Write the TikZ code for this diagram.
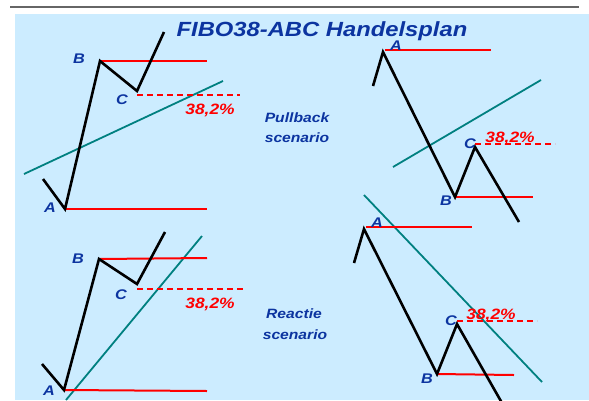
\documentclass[tikz,border=0pt]{standalone}
\usepackage{fontspec}
\setmainfont{Liberation Sans}
\newfontfamily\planfont[FakeStretch=1.16]{Liberation Sans}

\definecolor{skyback}{RGB}{204,236,255}
\definecolor{planblue}{RGB}{12,52,160}
\definecolor{trendteal}{RGB}{0,128,128}

\tikzset{
  wave/.style={line width=2.6pt,black},
  level/.style={line width=2pt,red},
  retrace/.style={level,dash pattern=on 6pt off 4pt},
  trend/.style={line width=1.8pt,trendteal},
  ptlabel/.style={font=\planfont\fontsize{14}{14}\selectfont\bfseries\itshape,text=planblue,inner sep=0pt,anchor=base},
  pctlabel/.style={font=\planfont\fontsize{15}{15}\selectfont\bfseries\itshape,text=red,inner sep=0pt,anchor=base},
  scenlabel/.style={font=\planfont\fontsize{13.5}{13.5}\selectfont\bfseries\itshape,text=planblue,inner sep=0pt,anchor=base},
}

\begin{document}
\begin{tikzpicture}[x=1pt,y=-1pt]
  \useasboundingbox (0,0) rectangle (589,400);
  \fill[white] (0,0) rectangle (589,400);
  \draw[black!60,line width=1.2pt] (10,7) -- (579,7);
  \fill[skyback] (15,14) rectangle (589,400);
  \node[font=\planfont\fontsize{20.5}{20.5}\selectfont\bfseries\itshape,text=planblue,inner sep=0pt,anchor=base] (title) at (322,36) {FIBO38-ABC Handelsplan};

  \begin{scope}
  \clip (15,14) rectangle (589,400);
  % pullback, rising market
  \coordinate (pu0) at (43,179); \coordinate (puA) at (65,209);
  \coordinate (puB) at (100,61); \coordinate (puC) at (137,91);
  \coordinate (pu1) at (164,32);
  \draw[trend] (24,174) -- (223,81);
  \draw[level] (puB) -- (207,61);
  \draw[level] (puA) -- (207,209);
  \draw[retrace] (137,95) -- (240,95);
  \draw[wave] (pu0) -- (puA) -- (puB) -- (puC) -- (pu1);
  \node[ptlabel] (puAl) at (50,212) {A};
  \node[ptlabel] (puBl) at (79,63) {B};
  \node[ptlabel] (puCl) at (122,104) {C};
  \node[pctlabel] (pupct) at (210,114) {38,2\%};

  % pullback, falling market
  \coordinate (pd0) at (373,86); \coordinate (pdA) at (383,52);
  \coordinate (pdB) at (455,197); \coordinate (pdC) at (475,147);
  \coordinate (pd1) at (519,222);
  \draw[trend] (393,167) -- (541,80);
  \draw[level] (385,50) -- (491,50);
  \draw[level] (pdB) -- (533,197);
  \draw[retrace] (475,144) -- (555,144);
  \draw[wave] (pd0) -- (pdA) -- (pdB) -- (pdC) -- (pd1);
  \node[ptlabel] (pdAl) at (396,50.8) {A};
  \node[ptlabel] (pdBl) at (446,205) {B};
  \node[ptlabel] (pdCl) at (470,148) {C};
  \node[pctlabel] (pdpct) at (510,142) {38,2\%};

  % reaction, rising market
  \coordinate (ru0) at (42,364); \coordinate (ruA) at (64,390);
  \coordinate (ruB) at (99,259); \coordinate (ruC) at (137,284);
  \coordinate (ru1) at (165,232);
  \draw[trend] (202,236) -- (66,400);
  \draw[level] (ruB) -- (207,258);
  \draw[level] (ruA) -- (207,391);
  \draw[retrace] (137,289) -- (244,289);
  \draw[wave] (ru0) -- (ruA) -- (ruB) -- (ruC) -- (ru1);
  \node[ptlabel] (ruAl) at (49,395) {A};
  \node[ptlabel] (ruBl) at (78,263) {B};
  \node[ptlabel] (ruCl) at (121,299) {C};
  \node[pctlabel] (rupct) at (210,308) {38,2\%};

  % reaction, falling market
  \coordinate (rd0) at (354,263); \coordinate (rdA) at (364,229);
  \coordinate (rdB) at (437,374); \coordinate (rdC) at (457,324);
  \coordinate (rd1) at (502,403);
  \draw[trend] (364,195) -- (542,382);
  \draw[level] (366,227) -- (472,227);
  \draw[level] (rdB) -- (514,375);
  \draw[retrace] (457,321) -- (537,321);
  \draw[wave] (rd0) -- (rdA) -- (rdB) -- (rdC) -- (rd1);
  \node[ptlabel] (rdAl) at (377,227) {A};
  \node[ptlabel] (rdBl) at (427,383) {B};
  \node[ptlabel] (rdCl) at (451,325) {C};
  \node[pctlabel] (rdpct) at (491,319) {38,2\%};
  \end{scope}

  % scenario captions
  \node[scenlabel] (pull1) at (297,122) {Pullback};
  \node[scenlabel] (pull2) at (297,142) {scenario};
  \node[scenlabel] (react1) at (294,318) {Reactie};
  \node[scenlabel] (react2) at (295,339) {scenario};
\end{tikzpicture}
\end{document}
